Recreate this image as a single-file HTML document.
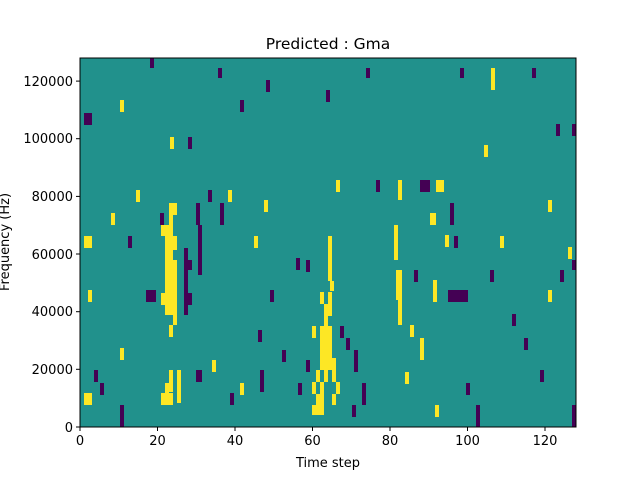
<!DOCTYPE html>
<html><head><meta charset="utf-8"><style>
body{margin:0;background:#fff;}
svg text{font-family:"DejaVu Sans","Liberation Sans",sans-serif;fill:#000}
</style></head><body>
<svg width="640" height="480" viewBox="0 0 640 480" xmlns="http://www.w3.org/2000/svg">
<rect width="640" height="480" fill="#fff"/>
<rect x="80" y="58" width="496" height="369" fill="#21918c"/>
<g fill="#fde725">
<rect x="161" y="225" width="12" height="11"/>
<rect x="169" y="203" width="4" height="22"/>
<rect x="165" y="236" width="12" height="14"/>
<rect x="165" y="250" width="8" height="10"/>
<rect x="165" y="260" width="12" height="33"/>
<rect x="161" y="293" width="16" height="12"/>
<rect x="165" y="305" width="12" height="10"/>
<rect x="173" y="315" width="4" height="10"/>
<rect x="169" y="325" width="4" height="12"/>
<rect x="173" y="203" width="4" height="12"/>
<rect x="84" y="236" width="8" height="12"/>
<rect x="84" y="393" width="8" height="12"/>
<rect x="161" y="393" width="12" height="12"/>
<rect x="169" y="370" width="4" height="22"/>
<rect x="177" y="370" width="4" height="33"/>
<rect x="165" y="383" width="4" height="10"/>
<rect x="328" y="236" width="4" height="45"/>
<rect x="330" y="281" width="4" height="10"/>
<rect x="320" y="292" width="4" height="12"/>
<rect x="328" y="292" width="4" height="12"/>
<rect x="324" y="304" width="8" height="12"/>
<rect x="324" y="316" width="4" height="10"/>
<rect x="312" y="326" width="4" height="12"/>
<rect x="320" y="326" width="12" height="32"/>
<rect x="320" y="358" width="16" height="12"/>
<rect x="316" y="370" width="4" height="12"/>
<rect x="324" y="370" width="4" height="12"/>
<rect x="332" y="370" width="4" height="12"/>
<rect x="312" y="382" width="4" height="12"/>
<rect x="320" y="382" width="4" height="12"/>
<rect x="336" y="382" width="4" height="12"/>
<rect x="316" y="394" width="8" height="11"/>
<rect x="332" y="394" width="4" height="11"/>
<rect x="312" y="405" width="12" height="10"/>
<rect x="396" y="270" width="6" height="30"/>
<rect x="398" y="300" width="4" height="25"/>
<rect x="398" y="180" width="4" height="20"/>
<rect x="436" y="180" width="8" height="12"/>
<rect x="430" y="213" width="6" height="12"/>
<rect x="491" y="68" width="4" height="22"/>
<rect x="394" y="225" width="4" height="35"/>
<rect x="433" y="280" width="4" height="22"/>
<rect x="410" y="325" width="4" height="12"/>
<rect x="420" y="338" width="4" height="22"/>
<rect x="136" y="190" width="4" height="12"/>
<rect x="111" y="213" width="4" height="12"/>
<rect x="88" y="290" width="4" height="12"/>
<rect x="120" y="348" width="4" height="12"/>
<rect x="548" y="200" width="4" height="12"/>
<rect x="568" y="247" width="4" height="12"/>
<rect x="500" y="236" width="4" height="12"/>
<rect x="336" y="180" width="4" height="12"/>
<rect x="254" y="236" width="4" height="12"/>
<rect x="405" y="372" width="4" height="12"/>
<rect x="435" y="405" width="4" height="12"/>
<rect x="548" y="290" width="4" height="12"/>
<rect x="264" y="200" width="4" height="12"/>
<rect x="240" y="383" width="4" height="12"/>
<rect x="170" y="137" width="4" height="12"/>
<rect x="120" y="100" width="4" height="12"/>
<rect x="445" y="235" width="4" height="12"/>
<rect x="484" y="145" width="4" height="12"/>
<rect x="212" y="360" width="4" height="12"/>
<rect x="228" y="190" width="4" height="12"/>
</g>
<g fill="#440154">
<rect x="146" y="290" width="10" height="12"/>
<rect x="184" y="248" width="4" height="67"/>
<rect x="188" y="260" width="4" height="10"/>
<rect x="188" y="293" width="4" height="12"/>
<rect x="420" y="180" width="10" height="12"/>
<rect x="448" y="290" width="20" height="12"/>
<rect x="84" y="113" width="8" height="12"/>
<rect x="572" y="260" width="4" height="10"/>
<rect x="572" y="405" width="4" height="22"/>
<rect x="476" y="405" width="4" height="22"/>
<rect x="196" y="370" width="6" height="12"/>
<rect x="450" y="203" width="4" height="22"/>
<rect x="454" y="236" width="4" height="12"/>
<rect x="572" y="124" width="4" height="12"/>
<rect x="556" y="124" width="4" height="12"/>
<rect x="150" y="58" width="4" height="10"/>
<rect x="218" y="68" width="4" height="10"/>
<rect x="366" y="68" width="4" height="10"/>
<rect x="532" y="68" width="4" height="10"/>
<rect x="460" y="68" width="4" height="10"/>
<rect x="240" y="100" width="4" height="12"/>
<rect x="326" y="90" width="4" height="12"/>
<rect x="188" y="137" width="4" height="12"/>
<rect x="208" y="190" width="4" height="12"/>
<rect x="220" y="203" width="4" height="22"/>
<rect x="196" y="203" width="4" height="22"/>
<rect x="198" y="225" width="4" height="50"/>
<rect x="160" y="213" width="4" height="12"/>
<rect x="128" y="236" width="4" height="12"/>
<rect x="270" y="290" width="4" height="12"/>
<rect x="306" y="260" width="4" height="12"/>
<rect x="340" y="326" width="4" height="12"/>
<rect x="346" y="338" width="4" height="12"/>
<rect x="354" y="350" width="4" height="22"/>
<rect x="362" y="383" width="4" height="22"/>
<rect x="376" y="180" width="4" height="12"/>
<rect x="414" y="270" width="4" height="12"/>
<rect x="490" y="270" width="4" height="12"/>
<rect x="512" y="314" width="4" height="12"/>
<rect x="524" y="338" width="4" height="12"/>
<rect x="540" y="370" width="4" height="12"/>
<rect x="260" y="370" width="4" height="22"/>
<rect x="230" y="393" width="4" height="12"/>
<rect x="120" y="405" width="4" height="22"/>
<rect x="94" y="370" width="4" height="12"/>
<rect x="100" y="383" width="4" height="12"/>
<rect x="258" y="330" width="4" height="12"/>
<rect x="282" y="350" width="4" height="12"/>
<rect x="298" y="383" width="4" height="12"/>
<rect x="266" y="80" width="4" height="12"/>
<rect x="352" y="405" width="4" height="12"/>
<rect x="466" y="383" width="4" height="12"/>
<rect x="560" y="270" width="4" height="12"/>
<rect x="306" y="360" width="4" height="12"/>
<rect x="296" y="258" width="4" height="12"/>
</g>
<rect x="80" y="58" width="496" height="369" fill="none" stroke="#000" stroke-width="1"/>
<g stroke="#000" stroke-width="1">
<line x1="80" y1="427" x2="80" y2="431"/><line x1="157.5" y1="427" x2="157.5" y2="431"/><line x1="235" y1="427" x2="235" y2="431"/><line x1="312.5" y1="427" x2="312.5" y2="431"/><line x1="390" y1="427" x2="390" y2="431"/><line x1="467.5" y1="427" x2="467.5" y2="431"/><line x1="545" y1="427" x2="545" y2="431"/>
<line x1="76" y1="427" x2="80" y2="427"/><line x1="76" y1="369.3" x2="80" y2="369.3"/><line x1="76" y1="311.7" x2="80" y2="311.7"/><line x1="76" y1="254" x2="80" y2="254"/><line x1="76" y1="196.4" x2="80" y2="196.4"/><line x1="76" y1="138.7" x2="80" y2="138.7"/><line x1="76" y1="81.1" x2="80" y2="81.1"/>
</g>
<g font-size="13" text-anchor="middle">
<text x="80" y="445">0</text><text x="157.5" y="445">20</text><text x="235" y="445">40</text><text x="312.5" y="445">60</text><text x="390" y="445">80</text><text x="467.5" y="445">100</text><text x="545" y="445">120</text>
</g>
<g font-size="13" text-anchor="end">
<text x="73" y="432">0</text><text x="73" y="374">20000</text><text x="73" y="316">40000</text><text x="73" y="259">60000</text><text x="73" y="201">80000</text><text x="73" y="143">100000</text><text x="73" y="86">120000</text>
</g>
<text x="328" y="467" font-size="13" text-anchor="middle">Time step</text>
<text x="0" y="0" font-size="13" text-anchor="middle" transform="translate(9,242) rotate(-90)">Frequency (Hz)</text>
<text x="328" y="49" font-size="15.5" text-anchor="middle">Predicted : Gma</text>
</svg>
</body></html>
